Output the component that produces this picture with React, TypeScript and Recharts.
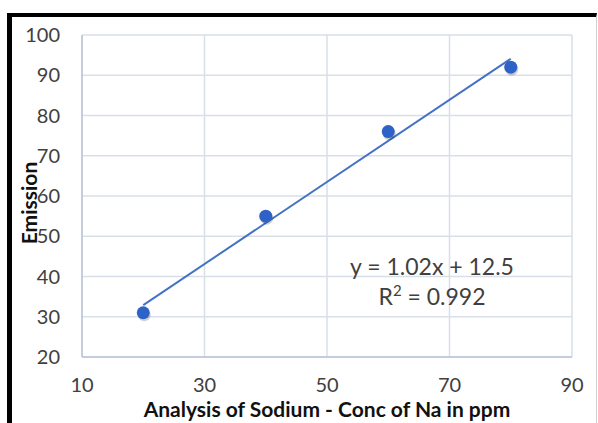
import React from "react";
import { ComposedChart, Scatter, Line, XAxis, YAxis, CartesianGrid } from "recharts";

const concentrations = [20, 40, 60, 80];
const emissions = [31, 55, 76, 92];
const trendX = [20, 80];
const trendY = [32.9, 94.1];
const xTicks = [10, 30, 50, 70, 90];
const yTicks = [20, 30, 40, 50, 60, 70, 80, 90, 100];

const points = concentrations.map((x, i) => ({ x, y: emissions[i] }));
const trend = trendX.map((x, i) => ({ x, y: trendY[i] }));

const FONT = "Lato, 'Open Sans', sans-serif";
const TEXT = "#404040";

const Dot = (props: any) => {
  const { cx, cy } = props;
  if (cx == null || cy == null) return null;
  return (
    <g>
      <circle cx={cx + 1} cy={cy + 2} r={6.5} fill="#000" opacity={0.18} />
      <circle cx={cx} cy={cy} r={6.5} fill="#2e62c6" />
    </g>
  );
};

export default function App() {
  return (
    <div style={{ position: "absolute", left: 0, top: 0, width: 598, height: 423, background: "#fff", fontFamily: FONT }}>
      <div
        style={{
          position: "absolute",
          left: 7,
          top: 13,
          width: 584,
          height: 410,
          borderTop: "4px solid #000",
          borderLeft: "5px solid #000",
          borderRight: "1px solid #d0d0d0",
        }}
      />
      <div style={{ position: "absolute", left: 0, top: 0 }}>
        <ComposedChart width={598} height={423} margin={{ top: 35, right: 26, bottom: 0, left: 0 }}>
          <CartesianGrid stroke="#d9dfe9" strokeWidth={1.5} />
          <XAxis
            type="number"
            dataKey="x"
            domain={[10, 90]}
            ticks={xTicks}
            height={66}
            tickSize={0}
            tickMargin={21}
            axisLine={{ stroke: "#b9c5d9", strokeWidth: 1.5 }}
            tick={{ fill: TEXT, fontSize: 20, fontFamily: FONT }}
            allowDataOverflow
            label={{
              value: "Analysis of Sodium - Conc of Na in ppm",
              position: "insideBottom",
              offset: 6,
              style: { fill: "#111", fontSize: 21, fontWeight: 700, fontFamily: FONT },
            }}
          />
          <YAxis
            type="number"
            dataKey="y"
            domain={[20, 100]}
            ticks={yTicks}
            width={82}
            tickSize={0}
            tickMargin={22}
            axisLine={{ stroke: "#b9c5d9", strokeWidth: 1.5 }}
            tick={{ fill: TEXT, fontSize: 20, fontFamily: FONT }}
            allowDataOverflow
          />
          <Line
            data={trend}
            dataKey="y"
            stroke="#4472c4"
            strokeWidth={2}
            dot={false}
            activeDot={false}
            isAnimationActive={false}
          />
          <Scatter data={points} dataKey="y" shape={Dot} isAnimationActive={false} />
        </ComposedChart>
      </div>
      <div
        style={{
          position: "absolute",
          left: 28,
          top: 203,
          transform: "translate(-50%, -50%) rotate(-90deg)",
          fontSize: 21,
          fontWeight: 700,
          color: "#111",
          whiteSpace: "nowrap",
        }}
      >
        Emission
      </div>
      <div
        style={{
          position: "absolute",
          left: 432,
          top: 281,
          transform: "translate(-50%, -50%)",
          fontSize: 23,
          lineHeight: "30px",
          color: TEXT,
          textAlign: "center",
          whiteSpace: "nowrap",
        }}
      >
        <div>y = 1.02x + 12.5</div>
        <div>
          R<sup style={{ fontSize: 15, verticalAlign: "9px", lineHeight: 0 }}>2</sup> = 0.992
        </div>
      </div>
    </div>
  );
}
